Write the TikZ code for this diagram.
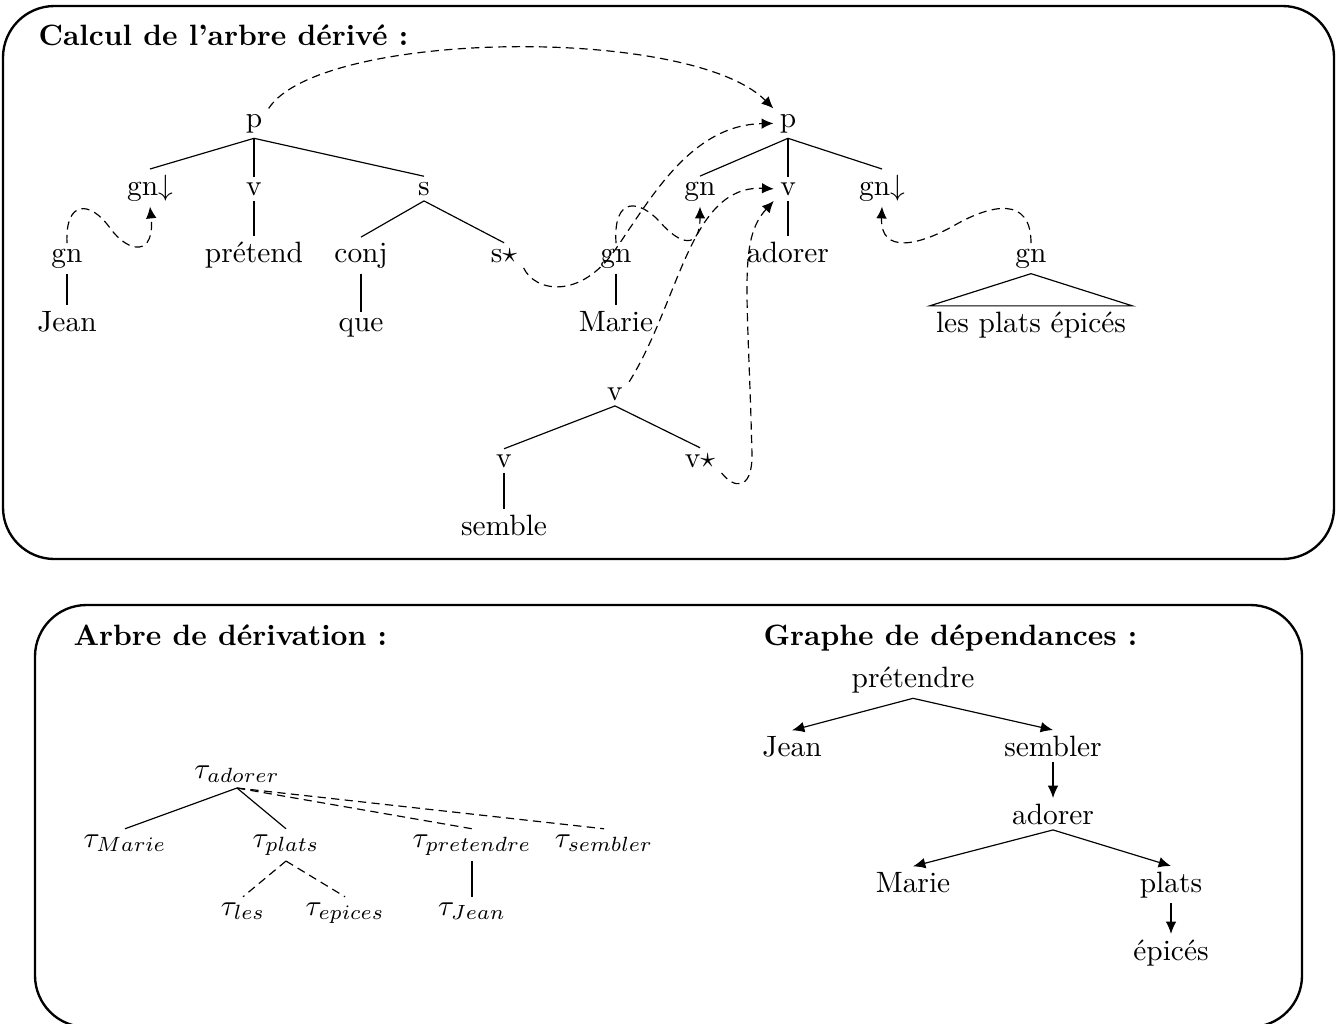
\documentclass[tikz,border=0pt]{standalone}
\usetikzlibrary{arrows.meta}
\begin{document}
\begin{tikzpicture}[x=0.34pt,y=-0.34pt,
  lab/.style={anchor=base, inner xsep=2pt, inner ysep=1.7pt},
  boxline/.style={line width=0.8pt, rounded corners=17.5pt},
  br/.style={line width=0.4pt},
  dl/.style={dash pattern=on 2.8pt off 1.8pt, line width=0.4pt},
  da/.style={dl, -{Latex[length=4pt,width=3.6pt]}},
  dep/.style={line width=0.4pt, -{Latex[length=4.2pt,width=3.6pt]}},
  ttl/.style={anchor=base west, inner sep=0pt, font=\bfseries},
]
\useasboundingbox (0,0) rectangle (1339,1023);

% ---------- upper frame: derived tree ----------
\draw[boxline] (3,6) rectangle (1334,559);
\node[ttl] (t1) at (38,45) {Calcul de l’arbre dérivé :};

% elementary tree of "prétend"
\node[lab] (pA) at (254,127) {p};
\node[lab] (gnA) at (150,195) {gn$\downarrow$};
\node[lab] (vA) at (254,195) {v};
\node[lab] (sA) at (424,195) {s};
\node[lab] (pretend) at (254,262) {prétend};
\node[lab] (conj) at (361,262) {conj};
\node[lab] (sStar) at (504,262) {s$\star$};
\node[lab] (que) at (361,331) {que};
\draw[br] (pA.south) -- (gnA.north);
\draw[br] (pA.south) -- (vA.north);
\draw[br] (pA.south) -- (sA.north);
\draw[br] (vA.south) -- (pretend.north);
\draw[br] (sA.south) -- (conj.north);
\draw[br] (sA.south) -- (sStar.north);
\draw[br] (conj.south) -- (que.north);

% tree of "Jean"
\node[lab] (gnJ) at (67,262) {gn};
\node[lab] (jean) at (67,331) {Jean};
\draw[br] (gnJ.south) -- (jean.north);

% elementary tree of "adorer"
\node[lab] (pB) at (788,127) {p};
\node[lab] (gnB) at (700,195) {gn};
\node[lab] (vB) at (788,195) {v};
\node[lab] (gnC) at (882,195) {gn$\downarrow$};
\node[lab] (adorer) at (788,262) {adorer};
\draw[br] (pB.south) -- (gnB.north);
\draw[br] (pB.south) -- (vB.north);
\draw[br] (pB.south) -- (gnC.north);
\draw[br] (vB.south) -- (adorer.north);

% tree of "Marie"
\node[lab] (gnM) at (616,262) {gn};
\node[lab] (marie) at (616,331) {Marie};
\draw[br] (gnM.south) -- (marie.north);

% tree of "les plats épicés"
\node[lab] (gnP) at (1031,262) {gn};
\node[lab] (plats) at (1031,332) {les plats épicés};
\draw[br] (gnP.south) -- (plats.north west) -- (plats.north east) -- cycle;

% auxiliary tree of "semble"
\node[lab] (vS) at (615,400) {v};
\node[lab] (vL) at (504,467) {v};
\node[lab] (vStar) at (700,467) {v$\star$};
\node[lab] (semble) at (504,535) {semble};
\draw[br] (vS.south) -- (vL.north);
\draw[br] (vS.south) -- (vStar.north);
\draw[br] (vL.south) -- (semble.north);

% substitutions and adjunctions
\draw[da] (pA.north east) .. controls (320,30) and (690,25) .. (pB.north west);
\draw[da] (gnJ.north) .. controls (65,200) and (90,200) .. (110,228)
          .. controls (130,255) and (155,255) .. (gnA.south);
\draw[da] (sStar.south east) .. controls (535,292) and (580,300) .. (615,250)
          .. controls (650,200) and (690,125) .. (pB.west);
\draw[da] (gnM.north) .. controls (613,195) and (640,200) .. (660,222)
          .. controls (680,245) and (700,250) .. (gnB.south);
\draw[da] (vS.north east) .. controls (680,300) and (690,185) .. (vB.west);
\draw[da] (vStar.south east) .. controls (733,488) and (752,492) .. (752,455)
          .. controls (748,290) and (738,240) .. (vB.south west);
\draw[da] (gnP.north) .. controls (1031,195) and (990,205) .. (955,225)
          .. controls (920,245) and (880,255) .. (gnC.south);

% ---------- lower frame ----------
\draw[boxline] (35,605) rectangle (1302,1027);
\node[ttl] (t2) at (73,645) {Arbre de dérivation :};
\node[ttl] (t3) at (763,645) {Graphe de dépendances :};

% derivation tree
\node[lab] (dAd) at (237,778) {$\tau_{adorer}$};
\node[lab] (dMa) at (125,847) {$\tau_{Marie}$};
\node[lab] (dPl) at (286,847) {$\tau_{plats}$};
\node[lab] (dPr) at (472,847) {$\tau_{pretendre}$};
\node[lab] (dSe) at (604,847) {$\tau_{sembler}$};
\node[lab] (dLe) at (243,915) {$\tau_{les}$};
\node[lab] (dEp) at (345,915) {$\tau_{epices}$};
\node[lab] (dJe) at (472,915) {$\tau_{Jean}$};
\draw[br] (dAd.south) -- (dMa.north);
\draw[br] (dAd.south) -- (dPl.north);
\draw[dl] (dAd.south) -- (dPr.north);
\draw[dl] (dAd.south) -- (dSe.north);
\draw[dl] (dPl.south) -- (dLe.north);
\draw[dl] (dPl.south) -- (dEp.north);
\draw[br] (dPr.south) -- (dJe.north);

% dependency graph
\node[lab] (gPr) at (913,687) {prétendre};
\node[lab] (gJe) at (792,756) {Jean};
\node[lab] (gSe) at (1053,756) {sembler};
\node[lab] (gAd) at (1053,824) {adorer};
\node[lab] (gMa) at (913,892) {Marie};
\node[lab] (gPl) at (1171,892) {plats};
\node[lab] (gEp) at (1171,960) {épicés};
\draw[dep] (gPr.south) -- (gJe.north);
\draw[dep] (gPr.south) -- (gSe.north);
\draw[dep] (gSe.south) -- (gAd.north);
\draw[dep] (gAd.south) -- (gMa.north);
\draw[dep] (gAd.south) -- (gPl.north);
\draw[dep] (gPl.south) -- (gEp.north);
\end{tikzpicture}
\end{document}
